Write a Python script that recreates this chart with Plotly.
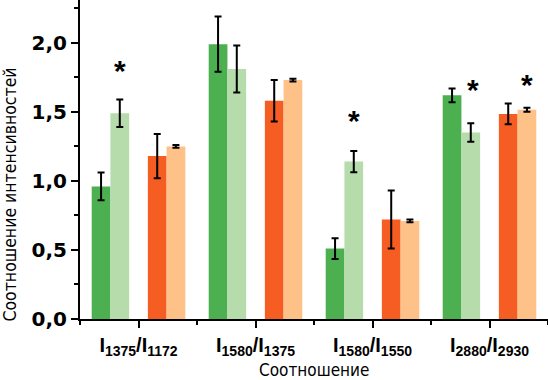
import plotly.graph_objects as go

categories = ["I<sub>1375</sub>/I<sub>1172</sub>", "I<sub>1580</sub>/I<sub>1375</sub>",
              "I<sub>1580</sub>/I<sub>1550</sub>", "I<sub>2880</sub>/I<sub>2930</sub>"]
x_pos = [0, 1, 2, 3]

dark_green = [0.96, 1.99, 0.51, 1.62]
dark_green_err = [0.10, 0.20, 0.075, 0.05]
light_green = [1.49, 1.81, 1.14, 1.35]
light_green_err = [0.10, 0.17, 0.077, 0.067]
orange = [1.18, 1.58, 0.72, 1.485]
orange_err = [0.16, 0.15, 0.21, 0.075]
light_orange = [1.25, 1.73, 0.71, 1.515]
light_orange_err = [0.01, 0.01, 0.01, 0.015]

star_x = [-0.16, 1.84, 2.86, 3.32]
star_y = [1.80, 1.44, 1.66, 1.70]

COND = "DejaVu Sans Condensed, Liberation Sans Narrow, Roboto, sans-serif"
BOLD = "DejaVu Sans, Arial, sans-serif"

series = [
    (dark_green, dark_green_err, "#4caf50", -0.40),
    (light_green, light_green_err, "#b5dcaa", -0.24),
    (orange, orange_err, "#f55d22", 0.08),
    (light_orange, light_orange_err, "#fec187", 0.24),
]

fig = go.Figure()
for vals, errs, col, off in series:
    fig.add_trace(go.Bar(
        x=x_pos, y=vals, width=0.16, offset=off,
        marker=dict(color=col, line=dict(width=0)),
        error_y=dict(type="data", array=errs, color="black", thickness=2, width=3.5),
        showlegend=False, hoverinfo="skip",
    ))

for sx, sy in zip(star_x, star_y):
    fig.add_annotation(x=sx, y=sy, text="<b>*</b>", showarrow=False, yanchor="middle",
                       font=dict(size=30, color="black", family="Liberation Sans, Arial, sans-serif"))

fig.add_annotation(xref="paper", yref="paper", x=0, y=0.39, xshift=-70, textangle=-90,
                   text="Соотношение интенсивностей", showarrow=False,
                   xanchor="center", yanchor="middle",
                   font=dict(size=17.5, family=COND, color="black"))
fig.add_annotation(xref="paper", yref="paper", x=0.5, y=0, yshift=-51,
                   text="Соотношение", showarrow=False,
                   xanchor="center", yanchor="middle",
                   font=dict(size=17, family=COND, color="black"))

fig.update_layout(
    width=548, height=380,
    margin=dict(l=80, r=0, t=0, b=61, autoexpand=False),
    plot_bgcolor="white", paper_bgcolor="white",
    barmode="overlay",
    separators=", ",
    font=dict(family=BOLD, color="black"),
)
fig.update_xaxes(
    range=[-0.5, 3.5], tickmode="array", tickvals=x_pos,
    ticktext=["<b>" + c + "</b>" for c in categories],
    tickfont=dict(size=20, family="Liberation Sans, Arial, sans-serif"),
    showline=True, linecolor="black", linewidth=2,
    ticks="outside", ticklen=7, tickwidth=2, tickcolor="black",
    minor=dict(tickmode="array", tickvals=[-0.5, 0.5, 1.5, 2.5, 3.5], ticks="outside",
               ticklen=4, tickwidth=2, tickcolor="black"),
    showgrid=False, zeroline=False, automargin=False,
)
fig.update_yaxes(
    range=[0, 2.31], tickmode="linear", tick0=0, dtick=0.5, tickformat=".1f",
    tickprefix="<b>", ticksuffix="</b>",
    tickfont=dict(size=20, family=BOLD),
    showline=True, linecolor="black", linewidth=2,
    ticks="outside", ticklen=7, tickwidth=2, tickcolor="black",
    minor=dict(dtick=0.25, ticks="outside", ticklen=4, tickwidth=2, tickcolor="black"),
    showgrid=False, zeroline=False, automargin=False,
)

fig.write_html("out.html", config={"displayModeBar": False},
               post_script="document.body.style.margin='0';")
